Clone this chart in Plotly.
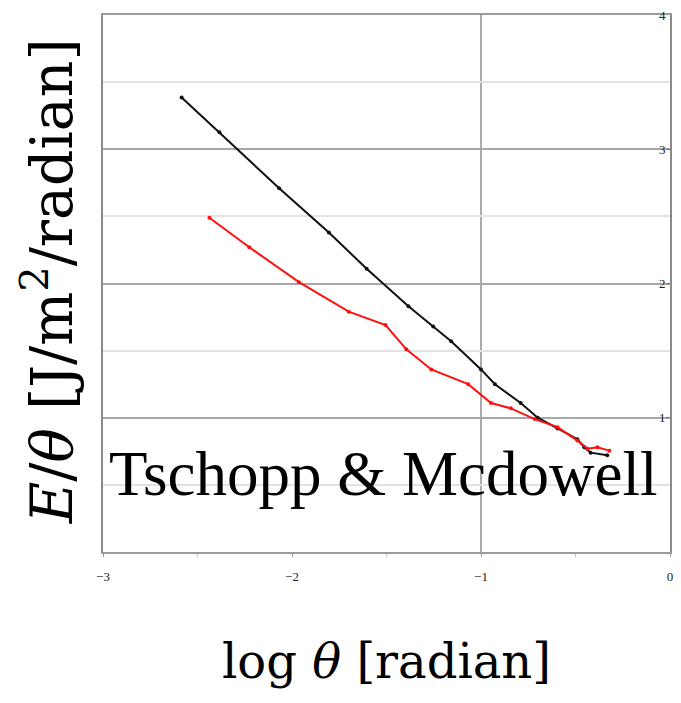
import plotly.graph_objects as go

# black series (log theta, E/theta)
black_x = [-2.584, -2.384, -2.068, -1.805, -1.605, -1.384, -1.253, -1.158, -1.0, -0.926, -0.79, -0.70, -0.595, -0.49, -0.453, -0.42, -0.332]
black_y = [3.385, 3.126, 2.71, 2.38, 2.11, 1.83, 1.68, 1.57, 1.36, 1.25, 1.11, 1.00, 0.92, 0.84, 0.78, 0.74, 0.72]

# red series
red_x = [-2.437, -2.226, -1.963, -1.70, -1.505, -1.395, -1.263, -1.068, -0.947, -0.842, -0.716, -0.595, -0.49, -0.437, -0.384, -0.321]
red_y = [2.49, 2.27, 2.01, 1.79, 1.69, 1.51, 1.36, 1.25, 1.11, 1.07, 0.99, 0.93, 0.83, 0.77, 0.78, 0.755]

x_ticks = [-3, -2, -1, 0]
x_tick_text = ["\u22123", "\u22122", "\u22121", "0"]
y_ticks = [1, 2, 3, 4]
grid_x = [-1]

fig = go.Figure()
fig.add_trace(go.Scatter(x=black_x, y=black_y, mode="lines+markers",
                         line=dict(color="#111111", width=2),
                         marker=dict(color="#111111", size=4), showlegend=False))
fig.add_trace(go.Scatter(x=red_x, y=red_y, mode="lines+markers",
                         line=dict(color="#ff1010", width=2),
                         marker=dict(color="#ff1010", size=4), showlegend=False))

for gx in grid_x:
    fig.add_shape(type="line", xref="x", yref="paper", x0=gx, x1=gx, y0=0, y1=1,
                  line=dict(color="#aaaaaa", width=2), layer="below")

fig.add_annotation(text="Tschopp & Mcdowell", xref="paper", yref="paper",
                   x=0.495, y=0.077, showarrow=False,
                   font=dict(family="Liberation Serif", size=63, color="black"))

fig.update_layout(
    width=681, height=703,
    margin=dict(l=103, r=8, t=12, b=151),
    paper_bgcolor="white", plot_bgcolor="white",
    font=dict(family="Liberation Serif", color="black"),
    xaxis=dict(range=[-3, 0], tickvals=x_ticks, ticktext=x_tick_text,
               showgrid=False, zeroline=False,
               showline=True, linecolor="#9a9a9a", linewidth=2, mirror=True,
               ticks="outside", ticklen=3, tickcolor="#9a9a9a",
               ticklabelstandoff=8,
               minor=dict(dtick=0.5, ticks="outside", ticklen=3, tickcolor="#bbbbbb"),
               tickfont=dict(size=13, family="Liberation Serif", color="#222"),
               title=dict(text="log <i>\u03b8</i> [radian]", standoff=62,
                          font=dict(size=48, family="DejaVu Serif"))),
    yaxis=dict(range=[0, 4], tickvals=y_ticks, side="right",
               ticklabelposition="inside", ticks="inside", ticklen=4,
               ticklabeloverflow="allow",
               tickcolor="#777777",
               showgrid=True, gridcolor="#a8a8a8", gridwidth=2,
               minor=dict(dtick=0.5, showgrid=True, gridcolor="#e2e2e2", gridwidth=2),
               zeroline=False,
               showline=True, linecolor="#8a8a8a", linewidth=2, mirror=True,
               tickfont=dict(size=13, family="Liberation Serif", color="#222")),
)

fig.add_annotation(text="<i>E</i>/<i>\u03b8</i> [J/m<sup>2</sup>/radian]",
                   xref="paper", yref="paper", x=-0.097, y=0.504, textangle=-90,
                   showarrow=False, xanchor="center", yanchor="middle",
                   font=dict(size=57, family="DejaVu Serif", color="black"))

fig.write_html("out.html")
